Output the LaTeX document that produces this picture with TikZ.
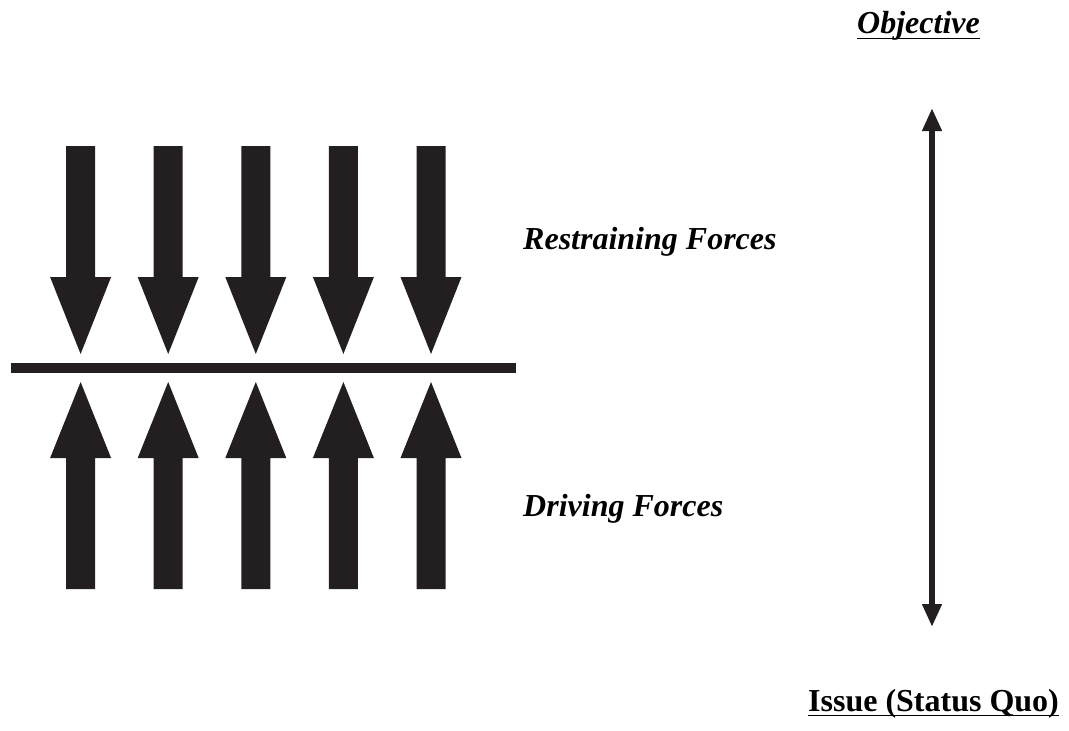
\documentclass[tikz,border=0pt]{standalone}
\usepackage{fontspec}
\setmainfont{Liberation Serif}
\usetikzlibrary{arrows.meta}
\definecolor{ink}{HTML}{231F20}
\begin{document}
\begin{tikzpicture}[x=1pt,y=-1pt,
  lbl/.style={anchor=base west,inner sep=0pt,text=black},
  forcetxt/.style={lbl,font=\fontsize{32}{38}\selectfont\bfseries\itshape},
  ul/.style={line width=1.7pt,black}]
\useasboundingbox (0,0) rectangle (1069,731);
% restraining (down) arrows and driving (up) arrows
\foreach \cx in {80.6,168.2,255.8,343.4,431}{
  \fill[ink] (\cx-14.5,146) -- (\cx+14.5,146) -- (\cx+14.5,277) -- (\cx+30.5,277)
     -- (\cx,354) -- (\cx-30.5,277) -- (\cx-14.5,277) -- cycle;
  \fill[ink] (\cx-14.5,589) -- (\cx+14.5,589) -- (\cx+14.5,458) -- (\cx+30.5,458)
     -- (\cx,382) -- (\cx-30.5,458) -- (\cx-14.5,458) -- cycle;
}
% horizontal bar
\fill[ink] (11,362.5) rectangle (516,373);
% double arrow
\coordinate (top) at (932,108);
\coordinate (bot) at (932,627);
\draw[ink,line width=5.7pt,{Triangle[width=18.5pt,length=23pt]}-{Triangle[width=18.5pt,length=23pt]}] (top) -- (bot);
% labels
\node[forcetxt] (restr) at (523,249) {Restraining Forces};
\node[forcetxt] (driv) at (523,516) {Driving Forces};
\node[lbl,font=\fontsize{32}{38}\selectfont\bfseries\itshape] (obj) at (857,33.5) {Objective};
\draw[ul] ([yshift=-5pt]obj.base west) -- ([yshift=-5pt]obj.base east);
\node[lbl,font=\fontsize{32}{38}\selectfont\bfseries] (issue) at (808,711) {Issue (Status Quo)};
\draw[ul] ([yshift=-4.5pt]issue.base west) -- ([yshift=-4.5pt]issue.base east);
\end{tikzpicture}
\end{document}
